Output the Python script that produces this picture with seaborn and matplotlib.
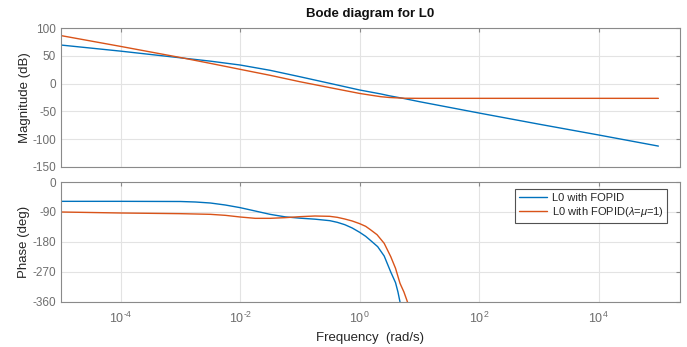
import numpy as np
import pandas as pd
import matplotlib
matplotlib.use("Agg")
import matplotlib.pyplot as plt
from matplotlib.ticker import FixedLocator, FixedFormatter, NullLocator
import seaborn as sns

# ---- data -------------------------------------------------------------
series_names = ["L0 with FOPID", "L0 with FOPID($\\it{\\lambda}$=$\\it{\\mu}$=1)"]

mag_freq = [1e-5, 1e-4, 1e-3, 3.16e-3, 1e-2, 3.16e-2, 0.1, 0.316, 1.0,
            1.58, 2.24, 3.16, 5.62, 10.0, 100.0, 1e3, 1e4, 1e5]
mag_fopid = [69.5, 58.5, 46.5, 40.5, 33.5, 24.0, 12.4, 0.5, -11.5,
             -15.5, -18.5, -22.0, -27.0, -32.5, -53.0, -73.0, -92.5, -112.5]
mag_pid = [86.5, 67.0, 47.0, 36.5, 25.7, 15.0, 3.4, -7.2, -17.7,
           -21.0, -23.5, -25.0, -26.3, -26.5, -26.5, -26.5, -26.5, -26.5]

ph_freq_fopid = [1e-5, 1e-4, 1e-3, 1.78e-3, 3.16e-3, 5.62e-3, 1e-2, 1.78e-2,
                 3.16e-2, 5.62e-2, 0.1, 0.178, 0.316, 0.422, 0.562, 0.75,
                 1.0, 1.26, 1.58, 2.0, 2.57, 3.31, 3.98, 4.37, 4.73]
ph_fopid = [-58, -58, -58.5, -60, -63, -69, -77, -87, -97, -104.5, -108.5,
            -111.5, -116, -121, -128, -138, -151, -163, -178, -194, -222,
            -270, -302, -330, -360]

ph_freq_pid = [1e-5, 1e-4, 1e-3, 3.16e-3, 5.62e-3, 1e-2, 1.78e-2, 3.16e-2,
               5.62e-2, 0.1, 0.178, 0.316, 0.422, 0.562, 0.75, 1.0, 1.26,
               1.51, 1.95, 2.57, 3.31, 3.98, 4.73, 5.5, 6.31]
ph_pid = [-90, -93, -95, -97, -100, -105, -109, -109, -107, -104, -102,
          -103, -106, -111, -117, -125, -133, -143, -158, -184, -224, -259,
          -304, -330, -360]

mag_ticks = [100, 50, 0, -50, -100, -150]
phase_ticks = [0, -90, -180, -270, -360]
freq_ticks = [1e-4, 1e-2, 1e0, 1e2, 1e4]
freq_tick_labels = ["$10^{\\text{-}4}$", "$10^{\\text{-}2}$", "$10^{0}$",
                    "$10^{2}$", "$10^{4}$"]

# ---- tables -----------------------------------------------------------
mag_df = pd.concat([
    pd.DataFrame({"freq": mag_freq, "value": mag_fopid, "series": series_names[0]}),
    pd.DataFrame({"freq": mag_freq, "value": mag_pid, "series": series_names[1]}),
])
ph_df = pd.concat([
    pd.DataFrame({"freq": ph_freq_fopid, "value": ph_fopid, "series": series_names[0]}),
    pd.DataFrame({"freq": ph_freq_pid, "value": ph_pid, "series": series_names[1]}),
])

# ---- style ------------------------------------------------------------
sns.set_style("white")
plt.rcParams["font.family"] = ["Liberation Sans", "DejaVu Sans"]
plt.rcParams["mathtext.fontset"] = "custom"
plt.rcParams["mathtext.rm"] = "Liberation Sans"
plt.rcParams["mathtext.it"] = "Liberation Sans:italic"
plt.rcParams["mathtext.default"] = "regular"
plt.rcParams["axes.unicode_minus"] = False

palette = {series_names[0]: "#0072BD", series_names[1]: "#D95319"}
spine_c = "#8a8a8a"
tick_c = "#6e6e6e"
grid_c = "#e3e3e3"

fig = plt.figure(figsize=(6.87, 3.47), dpi=100)
ax_mag = fig.add_axes([0.0888, 0.519, 0.901, 0.400])
ax_ph = fig.add_axes([0.0888, 0.1297, 0.901, 0.3458])

sns.lineplot(data=mag_df, x="freq", y="value", hue="series", palette=palette,
             ax=ax_mag, legend=False, linewidth=1.0, sort=False)
sns.lineplot(data=ph_df, x="freq", y="value", hue="series", palette=palette,
             ax=ax_ph, legend=False, linewidth=1.0, sort=False)

xlim = (1e-5, 2.3e5)
for ax in (ax_mag, ax_ph):
    ax.set_xscale("log")
    ax.set_xlim(*xlim)
    ax.xaxis.set_major_locator(FixedLocator(freq_ticks))
    ax.xaxis.set_minor_locator(NullLocator())
    ax.grid(True, color=grid_c, linewidth=0.8)
    ax.set_axisbelow(True)
    for s in ax.spines.values():
        s.set_color(spine_c)
        s.set_linewidth(0.8)
    ax.tick_params(axis="both", which="major", direction="in", length=3,
                   width=0.8, color=spine_c, labelcolor=tick_c, labelsize=8.5,
                   top=True, right=True)

ax_mag.set_ylim(-150, 100)
ax_mag.set_yticks(mag_ticks)
ax_mag.set_xticklabels([])
ax_mag.set_xlabel("")
ax_mag.set_ylabel("Magnitude (dB)", fontsize=9.5, color="#262626", labelpad=1)
ax_mag.set_title("Bode diagram for L0", fontsize=9.5, fontweight="bold",
                 color="#111111", pad=8)

ax_ph.set_ylim(-360, 0)
ax_ph.set_yticks(phase_ticks)
ax_ph.xaxis.set_major_formatter(FixedFormatter(freq_tick_labels))
ax_ph.set_xlabel("Frequency  (rad/s)", fontsize=9.5, color="#262626", labelpad=5)
ax_ph.set_ylabel("Phase (deg)", fontsize=9.5, color="#262626", labelpad=2)
ax_ph.tick_params(axis="x", pad=6, labelsize=9)

handles = [plt.Line2D([], [], color=palette[n], linewidth=1.0) for n in series_names]
leg = ax_ph.legend(handles, series_names, loc="upper right",
                   bbox_to_anchor=(0.979, 0.94), fontsize=8, frameon=True,
                   fancybox=False, handlelength=2.6, handletextpad=0.4,
                   borderpad=0.3, labelspacing=0.25, borderaxespad=0.0)
leg.get_frame().set_edgecolor("#262626")
leg.get_frame().set_linewidth(0.8)

fig.savefig("out.png", dpi=100)
